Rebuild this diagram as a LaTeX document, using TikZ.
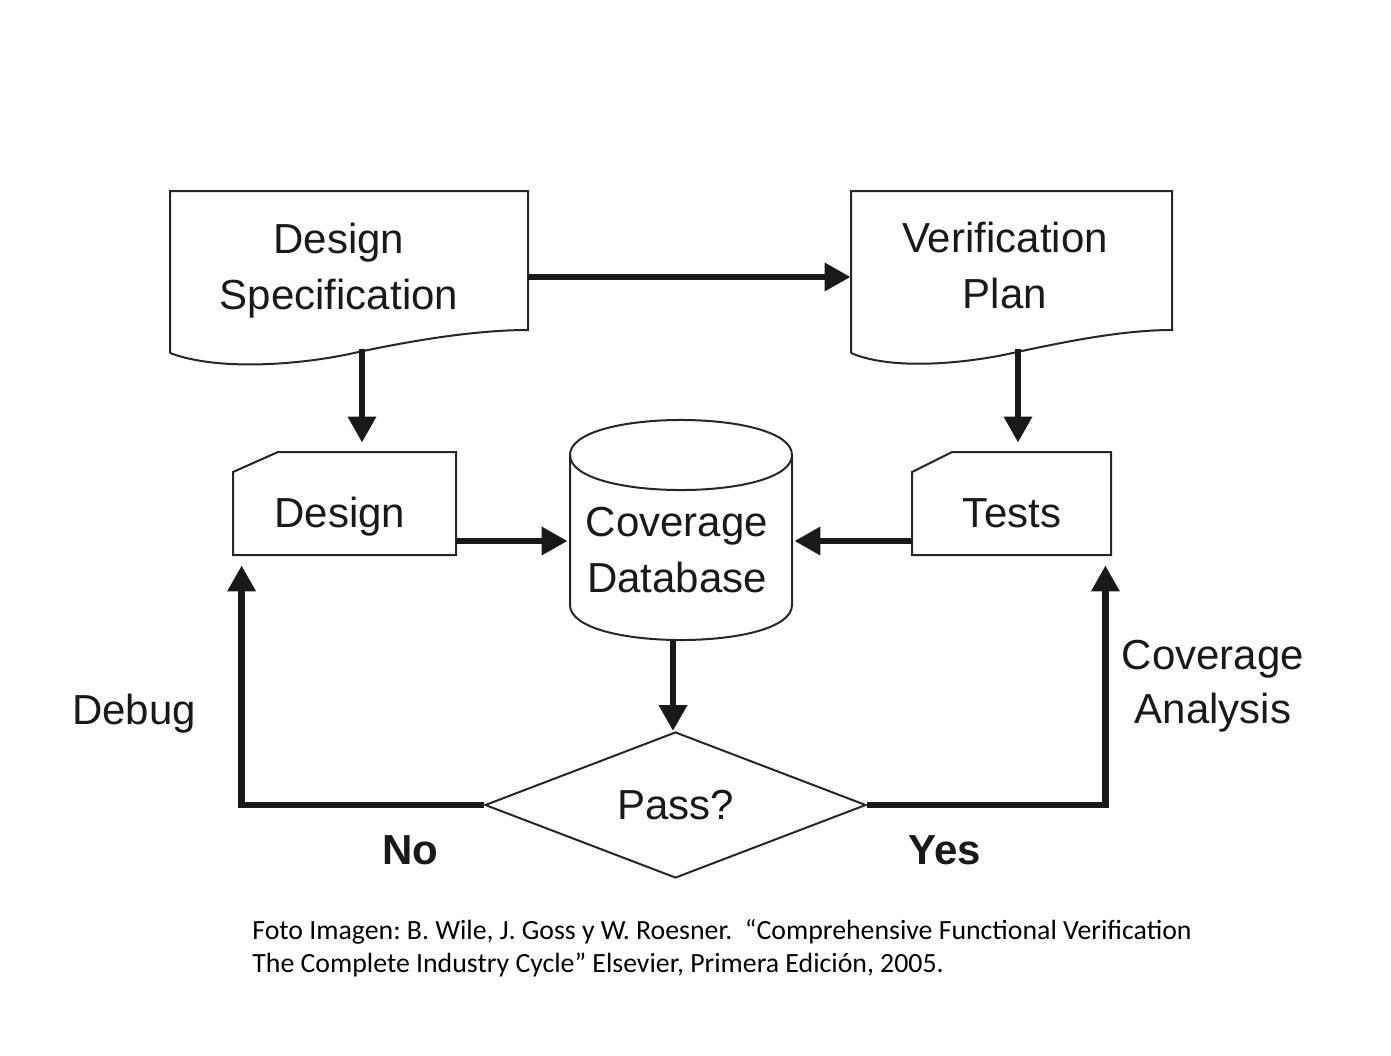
\documentclass[tikz,border=0pt]{standalone}
\usepackage{fontspec}
\setmainfont{Liberation Sans}
\newfontfamily\capfont{Carlito}
\usetikzlibrary{arrows.meta,shapes.geometric}
\begin{document}
\begin{tikzpicture}[x=0.5pt,y=-0.5pt,
  shapeline/.style={line width=1pt, draw=black!85},
  flow/.style={line width=3.4pt, draw=black!90, -{Triangle[length=13pt,width=13.5pt]}},
  lbl/.style={font=\fontsize{21}{28}\selectfont, align=center, inner sep=0pt, text=black!90},
  area/.style={inner sep=0pt, draw=none}]
\useasboundingbox (0,0) rectangle (1391,1055);

% shape areas (named nodes)
\node[area, minimum width=179pt, minimum height=82pt] (ds) at (349,273) {};
\node[area, minimum width=160.5pt, minimum height=82pt] (vp) at (1011.5,273) {};
\node[area, minimum width=111.5pt, minimum height=51.5pt] (design) at (344.5,503.5) {};
\node[area, minimum width=99.5pt, minimum height=51.5pt] (tests) at (1011.5,503.5) {};
\node[area, minimum width=111pt, minimum height=110pt] (cyl) at (681,530) {};

% outlines
\draw[shapeline] (170,353) -- (170,191) -- (528,191) -- (528,330)
  .. controls (470,330) and (400,343) .. (354,353)
  .. controls (305,364) and (220,372) .. (170,353);
\draw[shapeline] (851,353) -- (851,191) -- (1172,191) -- (1172,330)
  .. controls (1120,330) and (1060,343) .. (1017,352)
  .. controls (975,362) and (895,372) .. (851,353);
\draw[shapeline] (233,555) -- (233,472) -- (278,452) -- (456,452) -- (456,555) -- cycle;
\draw[shapeline] (912,555) -- (912,472) -- (952,452) -- (1111,452) -- (1111,555) -- cycle;
\draw[shapeline] (570,455) .. controls (570,408.3) and (792,408.3) .. (792,455)
  .. controls (792,501.7) and (570,501.7) .. (570,455);
\draw[shapeline] (570,455) -- (570,605) .. controls (570,651.7) and (792,651.7) .. (792,605) -- (792,455);

% texts
\node[lbl] (dst) at (339,270.5) {Design\\Specification};
\node[lbl] (vpt) at (1005,265.5) {Verification\\Plan};
\node[lbl] (designt) at (340,517) {Design};
\node[lbl] (testst) at (1012,513) {Tests};
\node[lbl] (cylt) at (677,550) {Coverage\\Database};
\node[diamond, shapeline, aspect=2.6, minimum width=190.5pt, minimum height=73pt, inner sep=0pt,
      font=\fontsize{21}{28}\selectfont, text=black!90] (pass) at (675.5,805) {Pass?};
\node[lbl] (debug) at (134,714) {Debug};
\node[lbl, font=\bfseries\fontsize{21}{28}\selectfont] (no) at (410,850) {No};
\node[lbl, font=\bfseries\fontsize{21}{28}\selectfont] (yes) at (945,850) {Yes};
\node[lbl, font=\fontsize{21}{27}\selectfont] (cova) at (1213,686) {Coverage\\Analysis};

% connectors
\draw[flow] ([yshift=-2pt]ds.east) -- ([yshift=-2pt]vp.west);
\draw[flow, shorten >=4.5pt] ([xshift=6.5pt,yshift=3pt]ds.south) -- ([xshift=6.5pt]ds.south |- design.north);
\draw[flow, shorten >=4.5pt] ([xshift=3.25pt,yshift=3pt]vp.south) -- ([xshift=3.25pt]vp.south |- tests.north);
\draw[flow, shorten >=1pt] ([yshift=-18.75pt]design.east) -- ([yshift=-18.75pt]design.east -| cyl.west);
\draw[flow, shorten >=1pt] ([yshift=-18.75pt]tests.west) -- ([yshift=-18.75pt]tests.west -| cyl.east);
\draw[flow] ([xshift=-4pt]cyl.south) -- ([xshift=-4pt]cyl.south |- pass.north);
\draw[flow, shorten >=5pt] (pass.west) -| ([xshift=4.5pt]design.south west);
\draw[flow, shorten >=5pt] (pass.east) -| ([xshift=-3pt]tests.south east);

% caption
\node[anchor=west, inner sep=0pt, font=\capfont\frenchspacing\fontsize{13.9}{16.5}\selectfont, align=left] (cap) at (252,948)
  {Foto Imagen: B. Wile, J. Goss y W. Roesner.\ \ “Comprehensive Functional Verification\\
   The Complete Industry Cycle” Elsevier, Primera Edición, 2005.};
\end{tikzpicture}
\end{document}
